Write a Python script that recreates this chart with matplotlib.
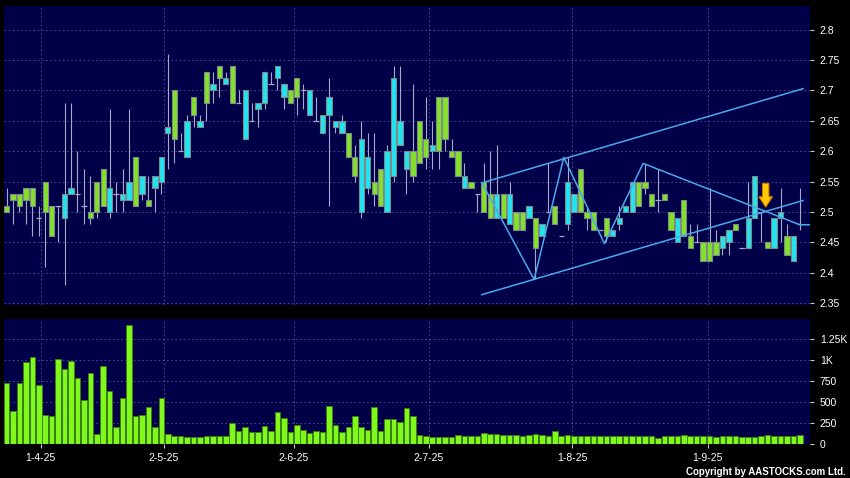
import numpy as np
import matplotlib.pyplot as plt
from matplotlib.patches import Polygon

plt.rcParams['font.family'] = ['Liberation Sans', 'DejaVu Sans']

# daily bars, one per trading day (25-3-25 .. 22-9-25)
opens = [2.51, 2.53, 2.53, 2.54, 2.54, 2.49, 2.55, 2.51, 2.51, 2.49,
         2.53, 2.53, 2.51, 2.50, 2.55, 2.57, 2.50, 2.53, 2.52, 2.52,
         2.59, 2.53, 2.52, 2.54, 2.55, 2.63, 2.70, 2.60, 2.59, 2.69,
         2.64, 2.73, 2.70, 2.74, 2.71, 2.74, 2.68, 2.62, 2.65, 2.67,
         2.68, 2.71, 2.72, 2.69, 2.70, 2.72, 2.70, 2.66, 2.65, 2.63,
         2.66, 2.64, 2.63, 2.63, 2.59, 2.50, 2.54, 2.55, 2.57, 2.50,
         2.56, 2.61, 2.57, 2.60, 2.65, 2.62, 2.60, 2.69, 2.69, 2.60,
         2.60, 2.54, 2.55, 2.53, 2.55, 2.53, 2.49, 2.53, 2.48, 2.50,
         2.50, 2.49, 2.49, 2.46, 2.50, 2.51, 2.46, 2.48, 2.50, 2.57,
         2.50, 2.50, 2.47, 2.49, 2.46, 2.48, 2.50, 2.50, 2.55, 2.55,
         2.53, 2.52, 2.53, 2.50, 2.45, 2.52, 2.46, 2.45, 2.45, 2.45,
         2.45, 2.44, 2.45, 2.48, 2.44, 2.44, 2.49, 2.50, 2.45, 2.44,
         2.49, 2.46, 2.42, 2.48]
closes = [2.50, 2.52, 2.51, 2.52, 2.51, 2.49, 2.50, 2.46, 2.51, 2.53,
          2.54, 2.53, 2.51, 2.49, 2.50, 2.51, 2.54, 2.53, 2.53, 2.55,
          2.51, 2.56, 2.51, 2.56, 2.59, 2.64, 2.62, 2.60, 2.65, 2.66,
          2.65, 2.68, 2.71, 2.72, 2.72, 2.68, 2.68, 2.70, 2.65, 2.68,
          2.73, 2.71, 2.74, 2.71, 2.68, 2.69, 2.70, 2.70, 2.65, 2.66,
          2.69, 2.65, 2.65, 2.59, 2.56, 2.62, 2.59, 2.53, 2.51, 2.60,
          2.72, 2.65, 2.60, 2.56, 2.58, 2.59, 2.61, 2.60, 2.62, 2.59,
          2.56, 2.56, 2.54, 2.53, 2.50, 2.49, 2.53, 2.49, 2.53, 2.47,
          2.47, 2.51, 2.44, 2.48, 2.50, 2.48, 2.46, 2.55, 2.53, 2.50,
          2.49, 2.47, 2.47, 2.46, 2.47, 2.49, 2.51, 2.55, 2.51, 2.54,
          2.51, 2.52, 2.52, 2.47, 2.49, 2.46, 2.44, 2.45, 2.42, 2.42,
          2.43, 2.46, 2.47, 2.47, 2.44, 2.49, 2.56, 2.50, 2.44, 2.49,
          2.50, 2.43, 2.46, 2.48]
highs = [2.54, 2.53, 2.53, 2.54, 2.54, 2.51, 2.55, 2.51, 2.51, 2.68,
         2.68, 2.60, 2.57, 2.56, 2.55, 2.57, 2.67, 2.55, 2.57, 2.67,
         2.59, 2.56, 2.56, 2.56, 2.59, 2.76, 2.70, 2.63, 2.66, 2.69,
         2.66, 2.73, 2.73, 2.74, 2.73, 2.74, 2.70, 2.70, 2.68, 2.68,
         2.73, 2.73, 2.74, 2.71, 2.70, 2.72, 2.71, 2.70, 2.69, 2.66,
         2.72, 2.65, 2.66, 2.63, 2.61, 2.65, 2.63, 2.63, 2.57, 2.61,
         2.74, 2.74, 2.60, 2.71, 2.65, 2.69, 2.65, 2.69, 2.69, 2.62,
         2.60, 2.58, 2.55, 2.53, 2.58, 2.60, 2.61, 2.53, 2.55, 2.50,
         2.50, 2.51, 2.49, 2.48, 2.58, 2.51, 2.46, 2.59, 2.53, 2.57,
         2.51, 2.50, 2.47, 2.49, 2.47, 2.51, 2.51, 2.55, 2.55, 2.58,
         2.53, 2.57, 2.53, 2.50, 2.49, 2.52, 2.48, 2.48, 2.45, 2.54,
         2.47, 2.46, 2.47, 2.48, 2.44, 2.55, 2.56, 2.50, 2.45, 2.49,
         2.54, 2.48, 2.46, 2.54]
lows = [2.50, 2.48, 2.50, 2.48, 2.46, 2.46, 2.41, 2.46, 2.45, 2.38,
        2.53, 2.50, 2.48, 2.48, 2.49, 2.51, 2.49, 2.50, 2.50, 2.52,
        2.51, 2.52, 2.51, 2.50, 2.53, 2.57, 2.58, 2.60, 2.59, 2.64,
        2.64, 2.65, 2.68, 2.69, 2.71, 2.68, 2.68, 2.62, 2.65, 2.64,
        2.67, 2.71, 2.70, 2.67, 2.68, 2.66, 2.67, 2.66, 2.65, 2.63,
        2.51, 2.63, 2.63, 2.59, 2.55, 2.49, 2.53, 2.51, 2.51, 2.50,
        2.55, 2.61, 2.53, 2.55, 2.58, 2.57, 2.57, 2.57, 2.60, 2.59,
        2.56, 2.54, 2.54, 2.50, 2.50, 2.49, 2.49, 2.49, 2.48, 2.47,
        2.47, 2.49, 2.39, 2.46, 2.50, 2.48, 2.46, 2.47, 2.50, 2.50,
        2.47, 2.47, 2.47, 2.45, 2.46, 2.47, 2.50, 2.50, 2.51, 2.53,
        2.51, 2.50, 2.52, 2.47, 2.45, 2.46, 2.44, 2.45, 2.42, 2.42,
        2.43, 2.43, 2.43, 2.47, 2.44, 2.44, 2.49, 2.45, 2.44, 2.44,
        2.45, 2.43, 2.42, 2.47]
volumes = [723, 392, 727, 975, 1042, 703, 343, 335, 1018, 891,
           995, 787, 523, 847, 112, 927, 627, 204, 547, 1418,
           331, 347, 439, 204, 547, 116, 92, 96, 84, 84,
           84, 88, 88, 88, 88, 244, 152, 196, 140, 140,
           216, 148, 375, 304, 140, 224, 164, 132, 152, 140,
           451, 224, 140, 196, 331, 196, 168, 435, 152, 296,
           300, 256, 431, 335, 100, 92, 84, 84, 84, 84,
           104, 92, 92, 92, 124, 116, 116, 100, 108, 100,
           92, 100, 112, 100, 88, 148, 92, 104, 96, 92,
           92, 92, 92, 92, 92, 92, 92, 92, 92, 92,
           92, 64, 92, 92, 92, 100, 92, 92, 92, 92,
           84, 92, 92, 92, 84, 84, 84, 92, 100, 92,
           92, 92, 92, 100]

date_labels = ['1-4-25', '2-5-25', '2-6-25', '2-7-25', '1-8-25', '1-9-25']
date_pos = [5.3, 24.4, 44.5, 65.5, 87.7, 108.7]

price_ticks = [2.35, 2.4, 2.45, 2.5, 2.55, 2.6, 2.65, 2.7, 2.75, 2.8]
vol_ticks = [0, 250, 500, 750, 1000, 1250]
vol_labels = ['0', '250', '500', '750', '1K', '1.25K']

# drawn studies
zig_x = [73.7, 81.8, 86.4, 92.7, 98.7, 123.0, 124.6]
zig_y = [2.548, 2.389, 2.590, 2.448, 2.580, 2.479, 2.479]
chan_x = [73.7, 123.5]
chan_up = [2.548, 2.703]
chan_lo = [2.364, 2.519]
arrow_x, arrow_top, arrow_tip = 117.7, 2.547, 2.508

BG = '#000048'
GRID = '#52529a'
WICK = '#a8a8c8'
GREEN = '#84e02a'
CYAN = '#22e4f0'
LINE = '#4aa8ec'

o = np.array(opens); c = np.array(closes)
h = np.array(highs); l = np.array(lows)
x = np.arange(len(o))
xlim = (-0.39, 124.57)

fig = plt.figure(figsize=(8.5, 4.78), dpi=100, facecolor='black')
ax1 = fig.add_axes([4 / 850, 1 - 305 / 478, 806 / 850, 299 / 478])
ax2 = fig.add_axes([4 / 850, 1 - 443.7 / 478, 806 / 850, 124.7 / 478])

for ax in (ax1, ax2):
    ax.set_facecolor(BG)
    for s in ax.spines.values():
        s.set_visible(False)
    ax.yaxis.tick_right()
    ax.tick_params(axis='y', colors='#c8c8c8', labelcolor='white', labelsize=7.5,
                   length=3, pad=4)
    ax.set_xlim(*xlim)
    ax.set_xticks(date_pos)
    ax.grid(True, color=GRID, linestyle=(0, (2, 3)), linewidth=0.6)
    ax.set_axisbelow(True)

# price panel
flat = np.isclose(o, c)
up = (c > o) & ~flat
dn = (c < o) & ~flat
ax1.vlines(x, l, h, color=WICK, lw=0.8, zorder=2)
for m, col in ((up, CYAN), (dn, GREEN)):
    ax1.bar(x[m], np.abs(c - o)[m], bottom=np.minimum(o, c)[m], width=0.82,
            color=col, edgecolor='#7d8a8a', linewidth=0.8, zorder=3)
ax1.hlines(o[flat], x[flat] - 0.42, x[flat] + 0.42, color=WICK, lw=0.9, zorder=3)

ax1.plot(zig_x, zig_y, color=LINE, lw=1.1, zorder=4)
ax1.plot(chan_x, chan_up, color=LINE, lw=1.1, zorder=4)
ax1.plot(chan_x, chan_lo, color=LINE, lw=1.1, zorder=4)

neck = arrow_top + (arrow_tip - arrow_top) * 0.56
arr = Polygon([(arrow_x - 0.5, arrow_top), (arrow_x + 0.5, arrow_top),
               (arrow_x + 0.5, neck), (arrow_x + 1.05, neck),
               (arrow_x, arrow_tip), (arrow_x - 1.05, neck),
               (arrow_x - 0.5, neck)],
              closed=True, facecolor='#ffc800', edgecolor='#c87800', lw=0.8, zorder=5)
ax1.add_patch(arr)

ax1.set_ylim(2.347, 2.839)
ax1.set_yticks(price_ticks)
ax1.set_yticklabels([f'{t:g}' for t in price_ticks])
ax1.tick_params(axis='x', length=0, labelbottom=False)

# volume panel
ax2.bar(x, volumes, width=0.86, color='#80f81c', edgecolor='#3a8010',
        linewidth=0.6, zorder=3)
ax2.set_ylim(0, 1493)
ax2.set_yticks(vol_ticks)
ax2.set_yticklabels(vol_labels)
ax2.set_xticklabels(date_labels)
ax2.tick_params(axis='x', colors='#c8c8c8', labelcolor='white', labelsize=7.5,
                length=3, pad=4)

fig.text(0.995, 1 - 472 / 478, 'Copyright by AASTOCKS.com Ltd.', ha='right',
         va='center', color='white', fontsize=7, fontweight='bold')

fig.savefig('out.png', dpi=100, facecolor='black')
